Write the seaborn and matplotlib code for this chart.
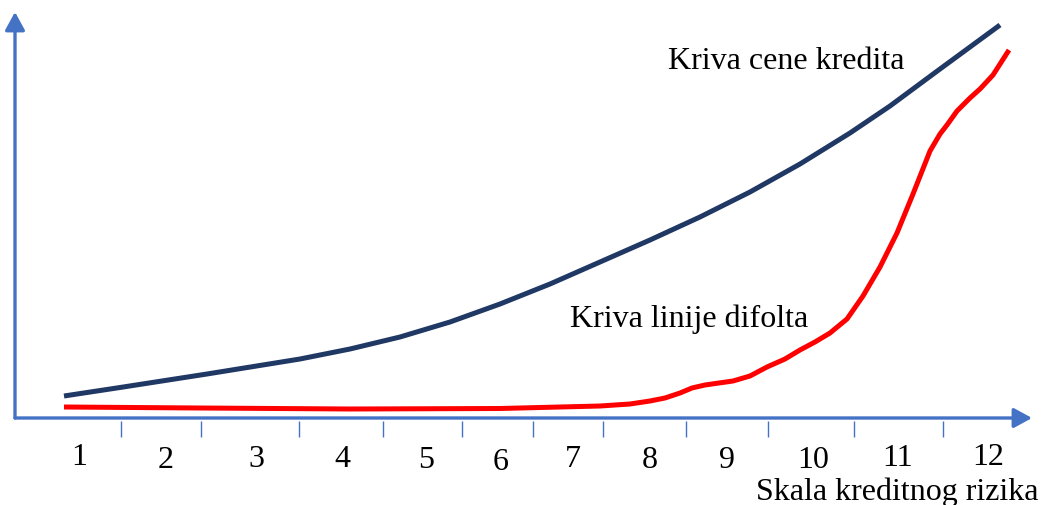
import matplotlib
matplotlib.use("Agg")
import matplotlib.pyplot as plt
import seaborn as sns
import pandas as pd

# ---- data (arbitrary units: risk position, level) ----
price_x = [49, 105, 192, 285, 335, 385, 435, 485, 535, 585, 635, 685, 735,
           785, 835, 875, 925, 985]
price_y = [22, 30.5, 44, 59, 69, 81, 96, 114, 134, 156, 178, 201, 226,
           254, 285, 312, 349, 393]

default_x = [49, 185, 335, 485, 585, 615, 635, 650, 665, 677, 690, 718, 735, 752,
             770, 785, 800, 815, 832, 848, 865, 882, 898, 915, 925, 932, 942, 955,
             965, 978, 994]
default_y = [11, 10, 9, 9.5, 12, 14, 17, 20, 25, 30, 33, 37, 42, 51,
             59, 68, 76, 85, 99, 122, 151, 185, 224, 267, 284, 293, 307, 320,
             329, 343, 368]

tick_marks = [106, 186, 284, 368, 447, 518, 588, 671, 753, 839, 928]
tick_labels = ["1", "2", "3", "4", "5", "6", "7", "8", "9", "10", "11", "12"]
label_x = [64, 151, 241, 327, 411, 486, 558, 635, 712, 798, 883, 973]
label_y = [-46, -49, -48, -48, -49, -51, -48, -49, -49, -49, -47, -46]

series_names = ["Kriva cene kredita", "Kriva linije difolta"]
x_title = "Skala kreditnog rizika"

df = pd.concat([
    pd.DataFrame({"x": price_x, "y": price_y, "curve": series_names[0]}),
    pd.DataFrame({"x": default_x, "y": default_y, "curve": series_names[1]}),
])

sns.set_theme(style="white")
plt.rcParams["font.family"] = ["Liberation Serif", "DejaVu Serif"]

W, H = 1042, 506
fig = plt.figure(figsize=(W / 100, H / 100), dpi=100)
ax = fig.add_axes([15 / W, (H - 419) / H, 1017 / W, 406 / H])

sns.lineplot(data=df, x="x", y="y", hue="curve", estimator=None, sort=False,
             palette={series_names[0]: "#203864", series_names[1]: "#FF0000"},
             linewidth=3.6, legend=False, ax=ax,
             solid_joinstyle="round", solid_capstyle="butt")

ax.set_xlim(0, 1017)
ax.set_ylim(0, 406)
ax.set_xticks([])
ax.set_yticks([])
ax.set_xlabel("")
ax.set_ylabel("")
for s in ax.spines.values():
    s.set_visible(False)

axis_col = "#4472C4"
arrow = dict(arrowstyle="-|>,head_length=0.55,head_width=0.3", mutation_scale=20,
             lw=2.4, color=axis_col, shrinkA=0, shrinkB=0)
ax.annotate("", xy=(1, 0), xytext=(0, 0), xycoords="axes fraction",
            textcoords="axes fraction", arrowprops=arrow, annotation_clip=False)
ax.annotate("", xy=(0, 1), xytext=(0, 0), xycoords="axes fraction",
            textcoords="axes fraction", arrowprops=arrow, annotation_clip=False)

ax.vlines(tick_marks, -19, -3, colors=axis_col, linewidth=1.0, clip_on=False)

for lx, ly, t in zip(label_x, label_y, tick_labels):
    ax.text(lx, ly, t, ha="center", va="baseline", fontsize=23, color="black",
            clip_on=False)

ax.text(653, 350, series_names[0], ha="left", va="baseline", fontsize=23, color="black")
ax.text(555, 92, series_names[1], ha="left", va="baseline", fontsize=23, color="black")
ax.text(1023, -81, x_title, ha="right", va="baseline", fontsize=23, color="black",
        clip_on=False)

fig.savefig("out.png", dpi=100)
